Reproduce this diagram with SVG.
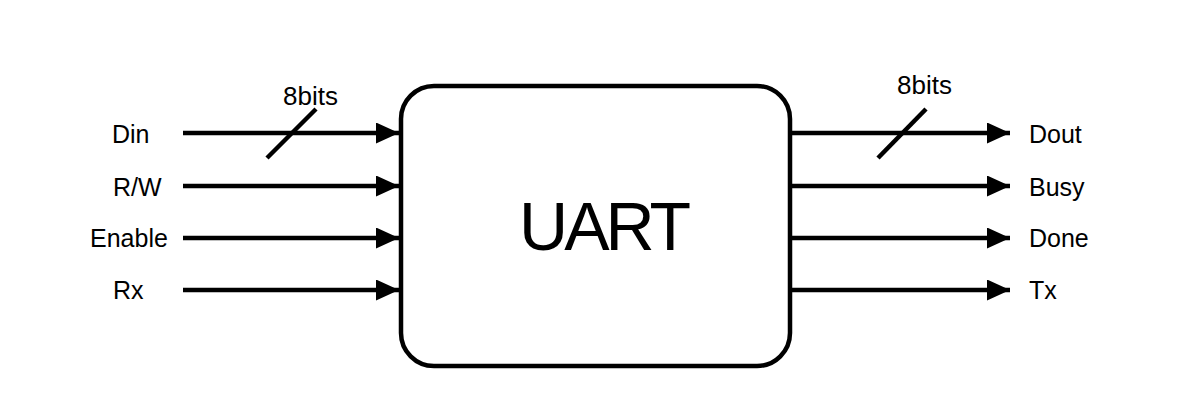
<svg xmlns="http://www.w3.org/2000/svg" width="1182" height="420" viewBox="0 0 1182 420">
<style>
text{font-family:"Liberation Sans",Arial,Helvetica,sans-serif;fill:#000}
.lbl{font-size:25px}
.bits{font-size:26px}
.wire{stroke:#000;stroke-width:4.5;fill:none}
.box{fill:#fff;stroke:#000;stroke-width:4.5}
</style>
<defs>
<marker id="ah" markerUnits="userSpaceOnUse" markerWidth="24" markerHeight="22" refX="23" refY="10.5" orient="auto">
<path d="M0,0 L23,10.5 L0,21 z" fill="#000"/>
</marker>
</defs>
<rect width="1182" height="420" fill="#fff"/>
<g id="uart">
<rect class="box" x="401" y="86" width="389" height="280" rx="33" ry="33"/>
<text x="603" y="250" font-size="68" text-anchor="middle" letter-spacing="-4">UART</text>
</g>
<g id="connectors">
<line class="wire" x1="183" y1="133" x2="399" y2="133" marker-end="url(#ah)"/>
<line class="wire" x1="183" y1="186" x2="399" y2="186" marker-end="url(#ah)"/>
<line class="wire" x1="183" y1="238" x2="399" y2="238" marker-end="url(#ah)"/>
<line class="wire" x1="183" y1="290" x2="399" y2="290" marker-end="url(#ah)"/>
<line class="wire" x1="267" y1="158" x2="316" y2="109"/>
<line class="wire" x1="791" y1="133" x2="1010" y2="133" marker-end="url(#ah)"/>
<line class="wire" x1="791" y1="186" x2="1010" y2="186" marker-end="url(#ah)"/>
<line class="wire" x1="791" y1="238" x2="1010" y2="238" marker-end="url(#ah)"/>
<line class="wire" x1="791" y1="290" x2="1010" y2="290" marker-end="url(#ah)"/>
<line class="wire" x1="878" y1="158" x2="926" y2="109"/>
</g>
<g id="inputs">
<text class="lbl" x="112" y="143">Din</text>
<text class="lbl" x="113" y="196">R/W</text>
<text class="lbl" x="90" y="247">Enable</text>
<text class="lbl" x="113" y="299">Rx</text>
<text class="bits" x="283" y="105">8bits</text>
</g>
<g id="outputs">
<text class="lbl" x="1029" y="143">Dout</text>
<text class="lbl" x="1029" y="196">Busy</text>
<text class="lbl" x="1029" y="247">Done</text>
<text class="lbl" x="1029" y="299">Tx</text>
<text class="bits" x="897" y="94">8bits</text>
</g>
</svg>
